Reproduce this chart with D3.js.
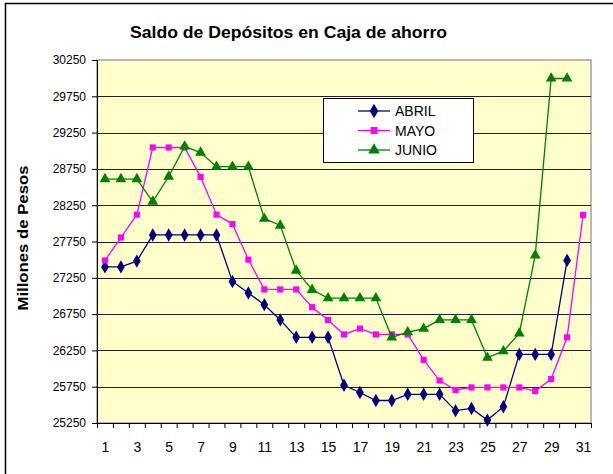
<!DOCTYPE html>
<html>
<head>
<meta charset="utf-8">
<script src="https://cdn.jsdelivr.net/npm/d3@7"></script>
<style>
  body { margin: 0; background: #fff; }
  svg { font-family: Arial, "Liberation Sans", sans-serif; }
</style>
</head>
<body>
<svg id="chart" width="613" height="474"></svg>
<script>
// datos (millones de pesos)
const dias = d3.range(1, 32);
const abril = [27400,27400,27480,27840,27840,27840,27840,27840,27200,27040,26880,26670,26430,26430,26430,25770,25670,25560,25560,25645,25645,25645,25420,25450,25290,25475,26195,26195,26195,27490];
const mayo = [27490,27805,28120,29045,29045,29045,28640,28120,27990,27500,27090,27090,27090,26845,26670,26470,26550,26470,26470,26470,26120,25835,25705,25740,25740,25740,25740,25690,25855,26430,28115];
const junio = [28610,28610,28610,28300,28645,29060,28975,28780,28780,28780,28065,27970,27350,27085,26970,26970,26970,26970,26430,26500,26550,26670,26670,26670,26150,26240,26485,27560,29995,29995];
const yTicks = d3.range(25250, 30251, 500);

const series = [
  { name: "ABRIL", values: abril, color: "#000080", symbol: d3.symbolDiamond, size: 52 },
  { name: "MAYO",  values: mayo,  color: "#FF00FF", symbol: d3.symbolSquare,  size: 38 },
  { name: "JUNIO", values: junio, color: "#008000", symbol: d3.symbolTriangle, size: 50 }
];

const svg = d3.select("#chart");
const pLeft = 97, pRight = 591, pTop = 60, pBottom = 423;

// marco exterior
svg.append("rect")
  .attr("x", 5.5).attr("y", 3.5)
  .attr("width", 640).attr("height", 500)
  .attr("fill", "none").attr("stroke", "#000").attr("stroke-width", 1.5);

const x = d3.scaleLinear().domain([0.5, 31.5]).range([pLeft, pRight]);
const y = d3.scaleLinear().domain([25250, 30250]).range([pBottom, pTop]);

// area de trazado
svg.append("rect")
  .attr("x", pLeft).attr("y", pTop)
  .attr("width", pRight - pLeft).attr("height", pBottom - pTop)
  .attr("fill", "#FFFFCC").attr("stroke", "#A0A0A0").attr("stroke-width", 1.5);

// lineas de division
svg.append("g").selectAll("line")
  .data(yTicks.slice(1, -1))
  .enter().append("line")
  .attr("x1", pLeft).attr("x2", pRight)
  .attr("y1", d => Math.round(y(d)) + 0.5).attr("y2", d => Math.round(y(d)) + 0.5)
  .attr("stroke", "#222").attr("stroke-width", 1);

// eje y
const yAxis = svg.append("g")
  .attr("transform", `translate(${pLeft},0)`)
  .call(d3.axisLeft(y).tickValues(yTicks).tickSize(5).tickPadding(6).tickFormat(d3.format("d")));
yAxis.select(".domain").attr("stroke", "#000");
yAxis.selectAll("text").attr("font-size", 12).attr("fill", "#000").attr("font-family", "Arial, 'Liberation Sans', sans-serif");

// eje x: marcas entre categorias
const xAxis = svg.append("g")
  .attr("transform", `translate(0,${pBottom})`)
  .call(d3.axisBottom(x).tickValues(d3.range(0.5, 32, 1)).tickSize(5).tickSizeOuter(0).tickFormat(""));
xAxis.select(".domain").attr("stroke", "#000");

// etiquetas del eje x
const xLabels = svg.append("g")
  .attr("transform", `translate(0,${pBottom + 17})`)
  .call(d3.axisBottom(x).tickValues(dias.filter(d => d % 2 === 1)).tickSize(0).tickPadding(2));
xLabels.select(".domain").remove();
xLabels.selectAll("text").attr("font-size", 14).attr("fill", "#000").attr("font-family", "Arial, 'Liberation Sans', sans-serif");

// series
const line = d3.line().x((d, i) => x(i + 1)).y(d => y(d));
series.forEach(s => {
  svg.append("path")
    .datum(s.values)
    .attr("d", line)
    .attr("fill", "none")
    .attr("stroke", s.color)
    .attr("stroke-width", 1.3);
  svg.append("g").selectAll("path")
    .data(s.values)
    .enter().append("path")
    .attr("d", d3.symbol().type(s.symbol).size(s.size))
    .attr("transform", (d, i) => `translate(${x(i + 1)},${y(d)})`)
    .attr("fill", s.color);
});

// titulo
svg.append("text")
  .attr("x", 288.5).attr("y", 38)
  .attr("text-anchor", "middle")
  .attr("font-size", 17).attr("font-weight", "bold")
  .attr("textLength", 317).attr("lengthAdjust", "spacingAndGlyphs")
  .text("Saldo de Depósitos en Caja de ahorro");

// titulo eje y
svg.append("text")
  .attr("transform", "translate(28,238) rotate(-90)")
  .attr("text-anchor", "middle")
  .attr("font-size", 14.5).attr("font-weight", "bold")
  .attr("textLength", 145).attr("lengthAdjust", "spacingAndGlyphs")
  .text("Millones de Pesos");

// leyenda
const legend = svg.append("g");
legend.append("rect")
  .attr("x", 323.5).attr("y", 98.5)
  .attr("width", 150).attr("height", 64)
  .attr("fill", "#fff").attr("stroke", "#000").attr("stroke-width", 1);
series.forEach((s, i) => {
  const ly = 111 + i * 19.5;
  legend.append("line")
    .attr("x1", 358).attr("x2", 390).attr("y1", ly).attr("y2", ly)
    .attr("stroke", s.color).attr("stroke-width", 1.3);
  legend.append("path")
    .attr("d", d3.symbol().type(s.symbol).size(s.size + 10))
    .attr("transform", `translate(374,${ly})`)
    .attr("fill", s.color);
  legend.append("text")
    .attr("x", 395).attr("y", ly + 5)
    .attr("font-size", 14)
    .text(s.name);
});
</script>
</body>
</html>
